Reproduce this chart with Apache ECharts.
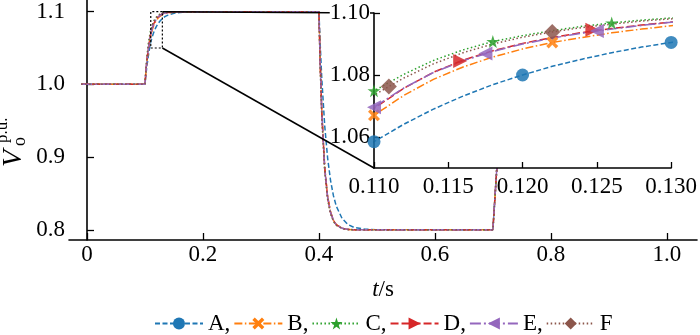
<!DOCTYPE html>
<html><head><meta charset="utf-8">
<script src="https://cdn.jsdelivr.net/npm/echarts@6/dist/echarts.min.js"></script>
<style>html,body{margin:0;padding:0;background:#fff}#c{width:700px;height:335px}</style>
</head><body><div id="c"></div>
<script>
// ---------- data ----------
const names = ['A', 'B', 'C', 'D', 'E', 'F'];
const T = [-0.01, 0.100, 0.102, 0.104, 0.106, 0.108, 0.110, 0.112, 0.114, 0.116, 0.118, 0.120, 0.122, 0.124, 0.126, 0.128, 0.130, 0.135, 0.140, 0.150, 0.160, 0.180, 0.400, 0.402, 0.405, 0.410, 0.415, 0.420, 0.425, 0.430, 0.440, 0.450, 0.460, 0.480, 0.500, 0.700, 0.716];
const A = [1.000, 1.000, 1.016, 1.029, 1.040, 1.050, 1.0585, 1.0641, 1.0690, 1.0732, 1.0769, 1.0800, 1.0828, 1.0851, 1.0872, 1.0890, 1.0905, 1.0934, 1.0953, 1.0977, 1.0989, 1.0997, 1.1000, 1.0587, 1.007, 0.943, 0.8987, 0.868, 0.847, 0.8324, 0.8155, 0.8074, 0.8035, 0.8008, 0.8002, 0.8000, 1.000];
const B = [1.000, 1.000, 1.020, 1.036, 1.048, 1.0585, 1.0670, 1.0734, 1.0786, 1.0826, 1.0858, 1.0884, 1.0905, 1.0921, 1.0936, 1.0948, 1.0959, 1.0972, 1.0981, 1.0991, 1.0996, 1.1000, 1.1000, 1.035, 0.961, 0.886, 0.846, 0.8248, 0.8133, 0.8071, 0.8021, 0.8006, 0.8002, 0.8000, 0.8000, 0.8000, 1.000];
const C = [1.000, 1.000, 1.024, 1.042, 1.056, 1.0665, 1.0749, 1.0802, 1.0847, 1.0881, 1.0908, 1.0927, 1.0943, 1.0957, 1.0968, 1.0977, 1.0984, 1.0991, 1.0995, 1.0999, 1.1000, 1.1000, 1.1000, 1.031, 0.956, 0.881, 0.842, 0.8225, 0.8118, 0.8063, 0.8018, 0.8005, 0.8001, 0.8000, 0.8000, 0.8000, 1.000];
const D = [1.000, 1.000, 1.021, 1.038, 1.050, 1.0605, 1.0692, 1.0757, 1.0809, 1.0848, 1.0878, 1.0902, 1.0921, 1.0937, 1.0950, 1.0961, 1.0971, 1.0980, 1.0987, 1.0995, 1.0998, 1.1000, 1.1000, 1.034, 0.960, 0.885, 0.845, 0.8242, 0.8130, 0.8069, 0.8020, 0.8006, 0.8002, 0.8000, 0.8000, 0.8000, 1.000];
const E = [1.000, 1.000, 1.021, 1.038, 1.050, 1.0610, 1.0696, 1.0758, 1.0808, 1.0846, 1.0876, 1.0900, 1.0919, 1.0935, 1.0948, 1.0960, 1.0970, 1.0980, 1.0987, 1.0995, 1.0998, 1.1000, 1.1000, 1.033, 0.959, 0.884, 0.845, 0.8240, 0.8128, 0.8068, 0.8020, 0.8006, 0.8002, 0.8000, 0.8000, 0.8000, 1.000];
const F = [1.000, 1.000, 1.023, 1.041, 1.055, 1.0652, 1.0735, 1.0790, 1.0836, 1.0872, 1.0900, 1.0922, 1.0939, 1.0953, 1.0964, 1.0974, 1.0981, 1.0988, 1.0993, 1.0998, 1.1000, 1.1000, 1.1000, 1.032, 0.957, 0.882, 0.843, 0.8230, 0.8120, 0.8064, 0.8019, 0.8005, 0.8001, 0.8000, 0.8000, 0.8000, 1.000];
// markers shown in the zoomed inset
const markT_A = [0.110, 0.120, 0.130], markV_A = [1.0585, 1.0800, 1.0905];
const markT_B = [0.110, 0.122],        markV_B = [1.0670, 1.0905];
const markT_C = [0.110, 0.118, 0.126], markV_C = [1.0749, 1.0908, 1.0968];
const markT_D = [0.1158, 0.1247],      markV_D = [1.0845, 1.0946];
const markT_E = [0.110, 0.1175, 0.125], markV_E = [1.0696, 1.0869, 1.0942];
const markT_F = [0.111, 0.122],        markV_F = [1.0763, 1.0939];
// tick labels
const mainXTicks = [0, 0.2, 0.4, 0.6, 0.8, 1.0];
const mainYTicks = [0.8, 0.9, 1.0, 1.1];
const insetXTicks = [0.110, 0.115, 0.120, 0.125, 0.130];
const insetYTicks = [1.06, 1.08, 1.10];
const insetXRange = [0.110, 0.130];
const insetYRange = [1.05, 1.10];

// ---------- style ----------
const FONT = 'Liberation Serif';
const FS = 23;
const colors = ['#1f77b4', '#ff7f0e', '#2ca02c', '#d62728', '#9467bd', '#8c564b'];
const X_PATH = 'path://M2,0L5,3L8,0L10,2L7,5L10,8L8,10L5,7L2,10L0,8L3,5L0,2Z';
const STAR_PATH = 'path://M5,0L6.18,3.62L10,3.62L6.91,5.85L8.09,9.47L5,7.24L1.91,9.47L3.09,5.85L0,3.62L3.82,3.62Z';
const symbols = ['circle', X_PATH, STAR_PATH, 'triangle', 'triangle', 'diamond'];
const rotates = [0, 0, 0, -90, 90, 0];
const sizes = [13, 12, 13, 14, 14, 16];
const dashes = [[5, 2.5], [8, 2.5, 1.5, 2.5], [1.5, 2.5], [8, 3], [11, 3, 2, 3], [1.5, 2.5]];
const vals = [A, B, C, D, E, F];
const marks = [[markT_A, markV_A], [markT_B, markV_B], [markT_C, markV_C], [markT_D, markV_D], [markT_E, markV_E], [markT_F, markV_F]];

const series = [];
names.forEach((n, i) => {
  const data = T.map((t, k) => [t, vals[i][k]]);
  const common = {
    name: n, type: 'line', symbol: symbols[i], symbolRotate: rotates[i], symbolSize: sizes[i],
    showSymbol: false, lineStyle: { color: colors[i], width: 1.5, type: dashes[i] },
    itemStyle: { color: colors[i] }, animation: false, emphasis: { disabled: true }
  };
  series.push(Object.assign({}, common, { xAxisIndex: 0, yAxisIndex: 0, data, z: 2 }));
  series.push(Object.assign({}, common, { xAxisIndex: 1, yAxisIndex: 1, data, z: 11 }));
});
names.forEach((n, i) => {
  series.push({
    type: 'scatter', xAxisIndex: 1, yAxisIndex: 1, z: 12, animation: false,
    data: marks[i][0].map((t, k) => [t, marks[i][1][k]]),
    symbol: symbols[i], symbolRotate: rotates[i], symbolSize: sizes[i],
    itemStyle: { color: colors[i], opacity: 0.85 }, emphasis: { disabled: true }, silent: true
  });
});
// dotted zoom box on the main axes
series.push({
  type: 'line', xAxisIndex: 0, yAxisIndex: 0, z: 3, symbol: 'none', silent: true, animation: false,
  data: [[insetXRange[0], insetYRange[0]], [insetXRange[1], insetYRange[0]], [insetXRange[1], insetYRange[1]], [insetXRange[0], insetYRange[1]], [insetXRange[0], insetYRange[0]]],
  lineStyle: { color: '#000', width: 1.2, type: [2, 2] }
});

const txt = { fontFamily: FONT, fontSize: FS, color: '#000' };
const axisLineStyle = { lineStyle: { color: '#000', width: 1.6 } };

const chart = echarts.init(document.getElementById('c'));
chart.setOption({
  animation: false,
  textStyle: { fontFamily: FONT },
  grid: [
    { left: 69, top: 0, right: 3, bottom: 95, containLabel: false },
    { left: 374, top: 13, width: 303, height: 155, show: true, backgroundColor: '#fff', borderWidth: 0, z: 10 }
  ],
  legend: {
    data: names, left: 149, top: 307, itemWidth: 48, itemHeight: 15, itemGap: 3,
    textStyle: { fontFamily: FONT, fontSize: FS, color: '#000' },
    formatter: n => (n === 'F' ? n : n + ','), selectedMode: false
  },
  xAxis: [
    { type: 'value', gridIndex: 0, min: -0.031, max: 1.052, splitLine: { show: false },
      axisLine: axisLineStyle, axisTick: { inside: true, length: 7, customValues: mainXTicks, lineStyle: { color: '#000', width: 1.3 } },
      axisLabel: Object.assign({ customValues: mainXTicks, margin: 3, formatter: v => (v === 0 ? '0' : v.toFixed(1)) }, txt),
      name: '{i|t}/s', nameLocation: 'middle', nameGap: 38,
      nameTextStyle: Object.assign({ rich: { i: { fontFamily: FONT, fontSize: FS, fontStyle: 'italic', color: '#000' } } }, txt) },
    { type: 'value', gridIndex: 1, min: insetXRange[0], max: insetXRange[1], z: 12, splitLine: { show: false },
      axisLine: axisLineStyle, axisTick: { inside: true, length: 6, customValues: insetXTicks, lineStyle: { color: '#000', width: 1.3 } },
      axisLabel: Object.assign({ customValues: insetXTicks, margin: 7, formatter: v => v.toFixed(3) }, txt) }
  ],
  yAxis: [
    { type: 'value', gridIndex: 0, min: 0.786, max: 1.116, splitLine: { show: false },
      axisLine: axisLineStyle, axisTick: { inside: true, length: 7, customValues: mainYTicks, lineStyle: { color: '#000', width: 1.3 } },
      axisLabel: Object.assign({ customValues: mainYTicks, margin: 4, formatter: v => v.toFixed(1) }, txt) },
    { type: 'value', gridIndex: 1, min: insetYRange[0], max: insetYRange[1], z: 12, splitLine: { show: false },
      axisLine: axisLineStyle, axisTick: { inside: true, length: 6, customValues: insetYTicks, lineStyle: { color: '#000', width: 1.3 } },
      axisLabel: Object.assign({ customValues: insetYTicks, margin: 4,
        formatter: v => (v > 1.0999 ? '{w|' + v.toFixed(2) + '}' : v.toFixed(2)),
        rich: { w: { fontFamily: FONT, fontSize: FS, color: '#000', backgroundColor: '#fff' } } }, txt) }
  ],
  series
});

// connector lines from the zoom box to the inset, and the y-axis title
const p1 = chart.convertToPixel({ gridIndex: 0 }, [insetXRange[1], insetYRange[1]]);
const q1 = chart.convertToPixel({ gridIndex: 1 }, [insetXRange[0], insetYRange[1]]);
const p2 = chart.convertToPixel({ gridIndex: 0 }, [insetXRange[1], insetYRange[0]]);
const q2 = chart.convertToPixel({ gridIndex: 1 }, [insetXRange[0], insetYRange[0]]);
chart.setOption({
  graphic: [
    { type: 'line', z: 4, silent: true, shape: { x1: p1[0], y1: p1[1], x2: q1[0], y2: q1[1] }, style: { stroke: '#000', lineWidth: 1.5 } },
    { type: 'line', z: 4, silent: true, shape: { x1: p2[0], y1: p2[1], x2: q2[0], y2: q2[1] }, style: { stroke: '#000', lineWidth: 1.5 } },
    { type: 'group', x: 14, y: 167, rotation: Math.PI / 2, silent: true, children: [
      { type: 'text', x: 0, y: 0, style: { text: 'V', font: 'italic 28px "Liberation Serif"', fill: '#000', textAlign: 'left', textVerticalAlign: 'middle' } },
      { type: 'text', x: 21, y: 6, style: { text: 'o', font: '18px "Liberation Serif"', fill: '#000', textAlign: 'left', textVerticalAlign: 'middle' } },
      { type: 'text', x: 24, y: -11, style: { text: 'p.u.', font: '17px "Liberation Serif"', fill: '#000', textAlign: 'left', textVerticalAlign: 'middle' } }
    ] }
  ]
});
</script></body></html>
